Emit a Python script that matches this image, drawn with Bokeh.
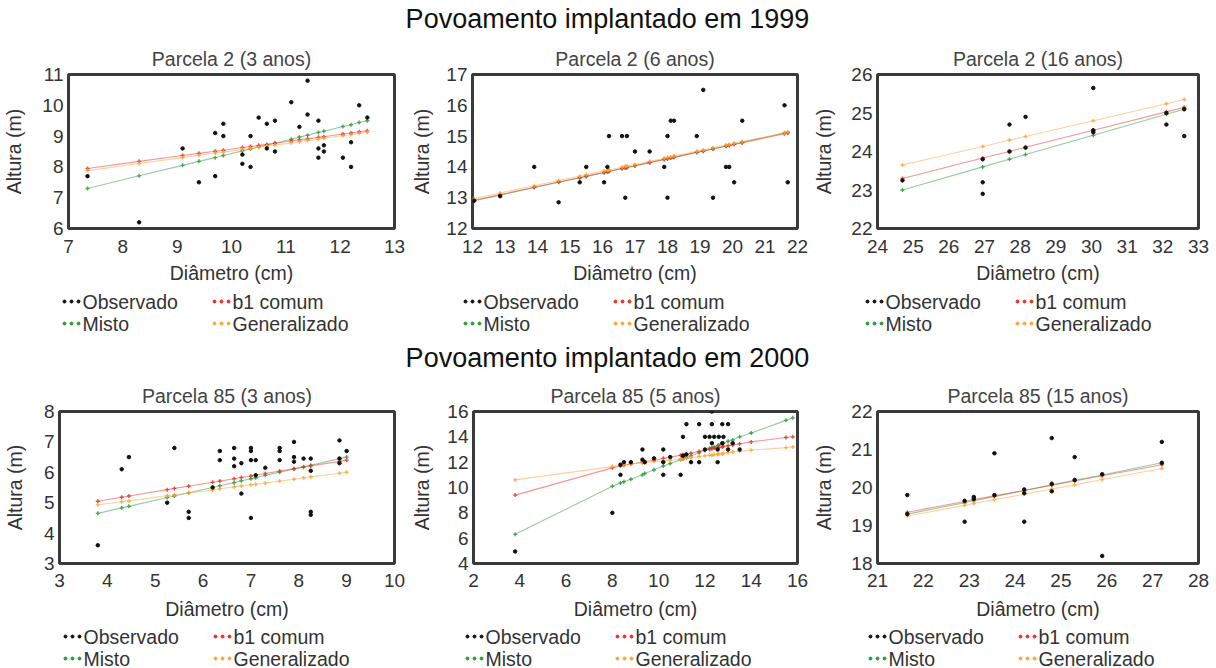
from bokeh.plotting import figure
from bokeh.models import Range1d, FixedTicker
from bokeh.layouts import column, row
from bokeh.core.properties import value
from bokeh.embed import file_html
from bokeh.resources import INLINE

FONT = "Liberation Sans"
TXT = "19.5px"
C_OBS = "#111111"
C_MISTO = "#2e9a3a"
C_B1 = "#e8302c"
C_GEN = "#ffa43a"

# ---------------- Parcela 2 (3 anos) ----------------
p1_obs_x = [7.35, 8.3, 9.1, 9.4, 9.7, 9.7, 9.85, 9.85, 10.2, 10.2, 10.35, 10.35, 10.5, 10.65, 10.65,
            10.8, 10.8, 11.1, 11.25, 11.4, 11.4, 11.6, 11.6, 11.6, 11.7, 11.7, 12.05, 12.2, 12.2, 12.35, 12.5]
p1_obs_y = [7.7, 6.2, 8.6, 7.5, 9.1, 7.7, 9.4, 9.0, 8.4, 8.1, 9.0, 8.0, 9.6, 9.4, 8.6,
            9.5, 8.5, 10.1, 9.3, 10.8, 9.7, 9.5, 8.6, 8.3, 8.7, 8.5, 8.3, 8.8, 8.0, 10.0, 9.6]
p1_fit_x = [7.35, 8.3, 9.1, 9.4, 9.7, 9.85, 10.2, 10.35, 10.5, 10.65, 10.8, 11.1, 11.25, 11.4, 11.6,
            11.7, 12.05, 12.2, 12.35, 12.5]
p1_misto = [7.30, 7.71, 8.05, 8.18, 8.30, 8.37, 8.52, 8.58, 8.65, 8.71, 8.77, 8.90, 8.97, 9.03, 9.12,
            9.16, 9.31, 9.37, 9.44, 9.50]
p1_b1 = [7.95, 8.18, 8.37, 8.44, 8.51, 8.54, 8.63, 8.66, 8.70, 8.73, 8.77, 8.84, 8.88, 8.91, 8.96,
         8.98, 9.07, 9.10, 9.14, 9.17]
p1_gen = [7.88, 8.11, 8.30, 8.38, 8.45, 8.48, 8.57, 8.60, 8.64, 8.68, 8.71, 8.78, 8.82, 8.86, 8.90,
          8.93, 9.01, 9.05, 9.09, 9.12]

# ---------------- Parcela 2 (6 anos) ----------------
p2_obs_x = [12.05, 12.85, 13.9, 14.65, 15.3, 15.5, 16.05, 16.15, 16.2, 16.6, 16.75, 16.7, 17.0, 17.45,
            17.9, 18.0, 18.0, 18.1, 18.2, 18.9, 19.1, 19.4, 19.8, 19.9, 20.05, 20.3, 21.6, 21.7]
p2_obs_y = [12.9, 13.05, 14.0, 12.85, 13.5, 14.0, 13.5, 14.0, 15.0, 15.0, 15.0, 13.0, 14.5, 14.5,
            14.0, 15.0, 13.0, 15.5, 15.5, 15.0, 16.5, 13.0, 14.0, 14.0, 13.5, 15.5, 16.0, 13.5]
p2_fit_x = [12.05, 12.85, 13.9, 14.65, 15.3, 15.5, 16.05, 16.15, 16.2, 16.6, 16.7, 16.75, 17.0, 17.45,
            17.9, 18.0, 18.1, 18.2, 18.9, 19.1, 19.4, 19.8, 19.9, 20.05, 20.3, 21.6, 21.7]
p2_misto = [12.90, 13.08, 13.33, 13.50, 13.65, 13.69, 13.82, 13.84, 13.85, 13.95, 13.97, 13.98, 14.04,
            14.14, 14.25, 14.27, 14.29, 14.31, 14.48, 14.52, 14.59, 14.68, 14.71, 14.74, 14.80, 15.10, 15.12]
p2_b1 = [12.92, 13.10, 13.34, 13.51, 13.65, 13.70, 13.82, 13.84, 13.86, 13.95, 13.97, 13.98, 14.04,
         14.14, 14.24, 14.26, 14.29, 14.31, 14.47, 14.51, 14.58, 14.67, 14.69, 14.73, 14.78, 15.08, 15.10]
p2_gen = [12.97, 13.15, 13.39, 13.56, 13.70, 13.75, 13.87, 13.89, 13.90, 13.99, 14.02, 14.03, 14.08,
          14.18, 14.28, 14.31, 14.33, 14.35, 14.51, 14.55, 14.62, 14.71, 14.73, 14.77, 14.82, 15.11, 15.14]

# ---------------- Parcela 2 (16 anos) ----------------
p3_obs_x = [24.7, 26.95, 26.95, 26.95, 27.7, 27.7, 28.15, 28.15, 30.05, 30.05, 30.05, 32.1, 32.1, 32.6, 32.6]
p3_obs_y = [23.25, 23.2, 22.9, 23.8, 24.7, 24.0, 24.9, 24.1, 25.65, 24.55, 24.5, 25.0, 24.7, 24.4, 25.1]
p3_fit_x = [24.7, 26.95, 27.7, 28.15, 30.05, 32.1, 32.6]
p3_misto = [23.00, 23.60, 23.80, 23.92, 24.42, 24.97, 25.10]
p3_b1 = [23.30, 23.83, 24.00, 24.11, 24.55, 25.03, 25.15]
p3_gen = [23.65, 24.13, 24.30, 24.39, 24.80, 25.24, 25.35]

# ---------------- Parcela 85 (3 anos) ----------------
p4_obs_x = [3.8, 4.3, 4.45, 5.25, 5.4, 5.7, 5.7, 6.2, 6.35, 6.35, 6.65, 6.65, 6.65, 6.8, 6.8, 7.0, 7.0,
            7.0, 7.0, 7.1, 7.1, 7.3, 7.6, 7.6, 7.6, 7.9, 7.9, 7.9, 8.1, 8.25, 8.25, 8.25, 8.25, 8.85,
            8.85, 8.85, 9.0]
p4_obs_y = [3.6, 6.1, 6.5, 5.0, 6.8, 4.7, 4.5, 5.5, 6.7, 6.4, 6.8, 6.45, 6.2, 5.3, 6.3, 6.8, 6.7,
            6.4, 4.5, 6.4, 5.9, 6.15, 6.8, 6.7, 6.4, 7.0, 6.5, 6.35, 6.45, 6.45, 6.05, 4.7, 4.6, 7.05,
            6.45, 6.3, 6.7]
p4_fit_x = [3.8, 4.3, 4.45, 5.25, 5.4, 5.7, 6.2, 6.35, 6.65, 6.8, 7.0, 7.1, 7.3, 7.6, 7.9, 8.1, 8.25,
            8.85, 9.0]
p4_misto = [4.65, 4.83, 4.88, 5.17, 5.22, 5.33, 5.50, 5.56, 5.66, 5.72, 5.79, 5.82, 5.90, 6.00, 6.11,
            6.18, 6.23, 6.45, 6.50]
p4_b1 = [5.05, 5.18, 5.22, 5.43, 5.47, 5.54, 5.67, 5.71, 5.79, 5.83, 5.88, 5.91, 5.96, 6.04, 6.12,
         6.17, 6.21, 6.36, 6.40]
p4_gen = [4.93, 5.03, 5.06, 5.23, 5.26, 5.32, 5.42, 5.46, 5.52, 5.55, 5.59, 5.61, 5.65, 5.71, 5.77,
          5.82, 5.85, 5.97, 6.00]

# ---------------- Parcela 85 (5 anos) ----------------
p5_obs_x = [3.8, 8.0, 8.35, 8.35, 8.5, 8.8, 9.3, 9.3, 9.4, 9.8, 10.2, 10.2, 10.2, 10.5, 10.95, 11.05,
            11.05, 11.2, 11.2, 11.4, 11.75, 11.75, 12.0, 12.0, 12.2, 12.3, 12.3, 12.3, 12.4, 12.55,
            12.55, 12.6, 12.75, 12.75, 12.8, 13.0, 13.0, 13.2, 13.5]
p5_obs_y = [4.95, 8.0, 11.0, 11.8, 12.0, 12.0, 13.0, 12.2, 12.0, 12.3, 13.0, 12.0, 11.0, 12.4, 11.0, 14.0,
            12.5, 15.0, 12.6, 12.0, 15.0, 12.0, 14.0, 13.0, 14.0, 16.0, 15.0, 13.5, 14.0, 12.0,
            13.0, 14.0, 15.0, 13.5, 14.0, 15.0, 13.0, 13.5, 13.0]
p5_fit_x = [3.8, 8.0, 8.35, 8.5, 8.8, 9.3, 9.4, 9.8, 10.2, 10.5, 10.95, 11.05, 11.2, 11.4, 11.75, 12.0,
            12.2, 12.3, 12.4, 12.55, 12.6, 12.75, 12.8, 13.0, 13.2, 13.5, 14.0, 15.5, 15.8]
p5_misto = [6.3, 10.1, 10.35, 10.45, 10.65, 11.0, 11.1, 11.4, 11.7, 11.9, 12.2, 12.25, 12.35, 12.5,
            12.75, 12.95, 13.1, 13.15, 13.2, 13.3, 13.35, 13.45, 13.5, 13.65, 13.75, 14.0, 14.3, 15.3, 15.5]
p5_b1 = [9.4, 11.55, 11.7, 11.75, 11.85, 12.0, 12.05, 12.15, 12.3, 12.4, 12.55, 12.6, 12.65, 12.7,
         12.85, 12.95, 13.0, 13.05, 13.1, 13.15, 13.15, 13.2, 13.25, 13.3, 13.35, 13.45, 13.6, 13.95, 14.0]
p5_gen = [10.6, 11.65, 11.75, 11.8, 11.85, 11.95, 11.95, 12.05, 12.1, 12.15, 12.25, 12.3, 12.3, 12.35,
          12.45, 12.5, 12.55, 12.55, 12.6, 12.6, 12.65, 12.65, 12.7, 12.75, 12.8, 12.85, 12.95, 13.15, 13.2]

# ---------------- Parcela 85 (15 anos) ----------------
p6_obs_x = [21.65, 21.65, 22.9, 22.9, 23.1, 23.1, 23.55, 23.55, 24.2, 24.2, 24.2, 24.8, 24.8, 24.8,
            25.3, 25.3, 25.9, 25.9, 27.2, 27.2]
p6_obs_y = [19.8, 19.3, 19.1, 19.65, 19.75, 19.7, 20.9, 19.8, 19.1, 19.95, 19.85, 21.3, 20.1, 19.9,
            20.8, 20.2, 18.2, 20.35, 21.2, 20.65]
p6_fit_x = [21.65, 22.9, 23.1, 23.55, 24.2, 24.8, 25.3, 25.9, 27.2]
p6_misto = [19.30, 19.60, 19.65, 19.76, 19.92, 20.07, 20.19, 20.33, 20.65]
p6_b1 = [19.35, 19.63, 19.68, 19.78, 19.92, 20.06, 20.17, 20.31, 20.60]
p6_gen = [19.25, 19.53, 19.58, 19.68, 19.82, 19.96, 20.07, 20.21, 20.50]

# axis ticks of each panel
p1_xticks, p1_yticks = list(range(7, 14)), list(range(6, 12))
p2_xticks, p2_yticks = list(range(12, 23)), list(range(12, 18))
p3_xticks, p3_yticks = list(range(24, 34)), list(range(22, 27))
p4_xticks, p4_yticks = list(range(3, 11)), list(range(3, 9))
p5_xticks, p5_yticks = list(range(2, 17, 2)), list(range(4, 17, 2))
p6_xticks, p6_yticks = list(range(21, 29)), list(range(18, 23))

TITLES = ["Parcela 2 (3 anos)", "Parcela 2 (6 anos)", "Parcela 2 (16 anos)",
          "Parcela 85 (3 anos)", "Parcela 85 (5 anos)", "Parcela 85 (15 anos)"]
HEADINGS = ["Povoamento implantado em 1999", "Povoamento implantado em 2000"]
LEGEND_ROWS = [("Observado", "b1 comum"), ("Misto", "Generalizado")]
SWATCH = {"Observado": C_OBS, "b1 comum": C_B1, "Misto": C_MISTO, "Generalizado": C_GEN}


def blank(width, height):
    # figure whose data space equals its pixel grid (y downwards), without axes
    f = figure(width=width, height=height, output_backend="svg", toolbar_location=None,
               x_range=Range1d(0, width), y_range=Range1d(height, 0),
               x_axis_location=None, y_axis_location=None, min_border=0,
               background_fill_color="white", border_fill_color="white")
    f.grid.visible = False
    f.outline_line_color = None
    return f


def heading_strip(text, height, cy):
    h = blank(1215, height)
    h.text([607], [cy], text=[text], text_font=value(FONT), text_font_size="27px",
           text_color="#111111", text_align="center", text_baseline="middle")
    return h


def legend_strip(height, x0, row_y):
    lf = blank(405, height)
    for r, pair in enumerate(LEGEND_ROWS):
        for c, lab in enumerate(pair):
            sx = x0 + 150 * c
            lf.scatter([sx + 2, sx + 9, sx + 16], [row_y[r]] * 3, marker="circle", size=3,
                       fill_color=SWATCH[lab], line_color=SWATCH[lab])
            lf.text([sx + 20], [row_y[r]], text=[lab], text_font=value(FONT), text_font_size=TXT,
                    text_color="#333333", text_baseline="middle", text_align="left")
    return lf


def panel(title, obs_x, obs_y, fit_x, misto, b1, gen, xticks, yticks,
          height, top, bottom, left, right, ylab_standoff, xtick_standoff, xlab_standoff):
    p = figure(width=405, height=height, output_backend="svg", toolbar_location=None,
               x_range=Range1d(xticks[0], xticks[-1]), y_range=Range1d(yticks[0], yticks[-1]),
               title=title, min_border_top=top, min_border_bottom=bottom,
               min_border_left=left, min_border_right=right,
               background_fill_color="white", border_fill_color="white")
    p.title.align = "center"
    p.title.text_font = FONT
    p.title.text_font_size = TXT
    p.title.text_font_style = "normal"
    p.title.text_color = "#444444"
    p.grid.visible = False
    p.outline_line_color = "#3a3a3a"
    p.outline_line_width = 3

    for ax in (p.xaxis[0], p.yaxis[0]):
        ax.axis_line_color = None
        ax.major_tick_line_color = None
        ax.minor_tick_line_color = None
        ax.major_tick_out = 0
        ax.major_tick_in = 0
        ax.minor_tick_out = 0
        ax.major_label_text_font = FONT
        ax.major_label_text_font_size = "19px"
        ax.major_label_text_color = "#333333"
        ax.axis_label_text_font = FONT
        ax.axis_label_text_font_size = TXT
        ax.axis_label_text_font_style = "normal"
        ax.axis_label_text_color = "#333333"
    p.xaxis.ticker = FixedTicker(ticks=xticks)
    p.yaxis.ticker = FixedTicker(ticks=yticks)
    p.xaxis.axis_label = "Diâmetro (cm)"
    p.yaxis.axis_label = "Altura (m)"
    p.xaxis.major_label_standoff = xtick_standoff
    p.xaxis.axis_label_standoff = xlab_standoff
    p.yaxis.major_label_standoff = 5
    p.yaxis.axis_label_standoff = ylab_standoff

    # fitted models: pale line with small markers at the observed diameters
    for vals, col in ((misto, C_MISTO), (b1, C_B1), (gen, C_GEN)):
        p.line(fit_x, vals, line_color=col, line_width=1.1, line_alpha=0.5)
    for vals, col in ((misto, C_MISTO), (b1, C_B1), (gen, C_GEN)):
        p.scatter(fit_x, vals, marker="cross", size=4, line_color=col, line_width=1.4, line_alpha=0.85)
    p.scatter(obs_x, obs_y, marker="circle", size=3.5, fill_color=C_OBS, line_color=C_OBS)
    return p


h1 = heading_strip(HEADINGS[0], 36, 18)
f1 = panel(TITLES[0], p1_obs_x, p1_obs_y, p1_fit_x, p1_misto, p1_b1, p1_gen, p1_xticks, p1_yticks,
           254, 38, 62, 68, 11, 14, 11, 6)
f2 = panel(TITLES[1], p2_obs_x, p2_obs_y, p2_fit_x, p2_misto, p2_b1, p2_gen, p2_xticks, p2_yticks,
           254, 38, 62, 67, 13, 10, 11, 6)
f3 = panel(TITLES[2], p3_obs_x, p3_obs_y, p3_fit_x, p3_misto, p3_b1, p3_gen, p3_xticks, p3_yticks,
           254, 38, 62, 65, 17, 13, 11, 6)
l1 = legend_strip(48, 62, [11, 33])
l2 = legend_strip(48, 58, [11, 33])
l3 = legend_strip(48, 55, [11, 33])

h2 = heading_strip(HEADINGS[1], 38, 19)
f4 = panel(TITLES[3], p4_obs_x, p4_obs_y, p4_fit_x, p4_misto, p4_b1, p4_gen, p4_xticks, p4_yticks,
           251, 35, 64, 59, 11, 15, 10, 8)
f5 = panel(TITLES[4], p5_obs_x, p5_obs_y, p5_fit_x, p5_misto, p5_b1, p5_gen, p5_xticks, p5_yticks,
           251, 35, 64, 68, 13, 11, 10, 8)
f6 = panel(TITLES[5], p6_obs_x, p6_obs_y, p6_fit_x, p6_misto, p6_b1, p6_gen, p6_xticks, p6_yticks,
           251, 35, 64, 65, 17, 13, 10, 8)
l4 = legend_strip(41, 63, [9, 31])
l5 = legend_strip(41, 60, [9, 31])
l6 = legend_strip(41, 58, [9, 31])

page = column(h1, row(f1, f2, f3), row(l1, l2, l3),
              h2, row(f4, f5, f6), row(l4, l5, l6))

open("out.html", "w").write(file_html(page, INLINE))
